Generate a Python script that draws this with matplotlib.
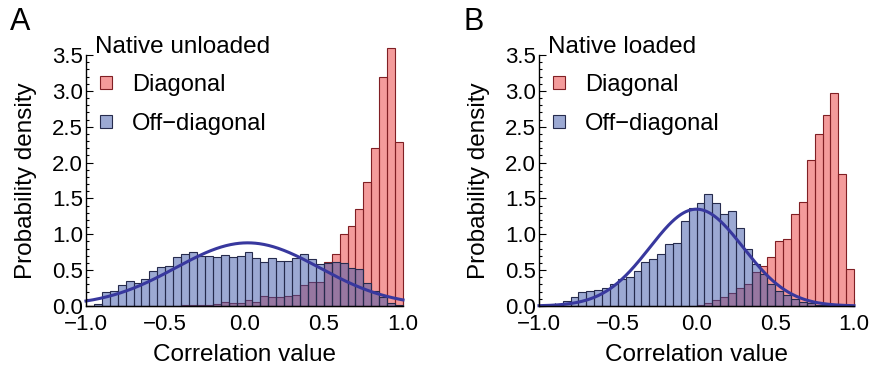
import numpy as np
import matplotlib
matplotlib.use("Agg")
import matplotlib.pyplot as plt
from matplotlib.patches import Patch
from matplotlib.ticker import MultipleLocator, FuncFormatter

plt.rcParams['font.family'] = ['Liberation Sans', 'DejaVu Sans']

# ---------------- data ----------------
bin_lo, bin_hi, n_bins = -1.0, 1.0, 40

# Panel A: native unloaded (densities per bin of width 0.05)
a_diag = [0, 0, 0, 0, 0, 0, 0, 0, 0, 0,
          0, 0, 0.01, 0.015, 0.02, 0.01, 0.03, 0.06, 0.035, 0.04,
          0.08, 0.055, 0.135, 0.12, 0.125, 0.14, 0.15, 0.29, 0.33, 0.34,
          0.61, 0.73, 1.0, 1.11, 1.35, 1.73, 2.2, 3.2, 3.6, 2.29]
a_off = [0.0, 0.03, 0.195, 0.215, 0.29, 0.35, 0.32, 0.37, 0.49, 0.54,
         0.555, 0.68, 0.73, 0.755, 0.70, 0.70, 0.685, 0.715, 0.69, 0.70,
         0.75, 0.67, 0.61, 0.665, 0.63, 0.63, 0.67, 0.72, 0.65, 0.58,
         0.60, 0.61, 0.60, 0.53, 0.51, 0.32, 0.21, 0.13, 0.04, 0.02]
a_fit_mu, a_fit_sigma = 0.02, 0.453

# Panel B: native loaded
b_diag = [0, 0, 0, 0, 0, 0, 0, 0, 0, 0,
          0, 0, 0, 0, 0, 0, 0, 0, 0, 0,
          0.02, 0.04, 0.08, 0.12, 0.18, 0.25, 0.30, 0.47, 0.555, 0.685,
          0.90, 0.93, 1.28, 1.45, 2.04, 2.40, 2.67, 2.97, 1.84, 0.51]
b_off = [0.005, 0.01, 0.015, 0.07, 0.12, 0.195, 0.21, 0.23, 0.25, 0.31,
         0.38, 0.41, 0.49, 0.62, 0.65, 0.73, 0.86, 0.88, 1.19, 1.37,
         1.43, 1.56, 1.44, 1.28, 1.32, 1.09, 0.80, 0.59, 0.445, 0.31,
         0.21, 0.16, 0.10, 0.06, 0.04, 0.02, 0.01, 0.005, 0.0, 0.0]
b_fit_mu, b_fit_sigma = 0.0, 0.2955

panel_letters = ["A", "B"]
panel_titles = ["Native unloaded", "Native loaded"]
legend_labels = ["Diagonal", "Off\u2212diagonal"]
xlabel = "Correlation value"
ylabel = "Probability density"

# ---------------- style ----------------
red_face = (0.92, 0.22, 0.22, 0.5)
red_edge = (0.50, 0.12, 0.14)
blue_face = (0.23, 0.33, 0.66, 0.5)
blue_edge = (0.15, 0.17, 0.30)
curve_col = (0.22, 0.22, 0.62)

W, H = 872, 373
fig = plt.figure(figsize=(W / 100, H / 100), dpi=100)

panels = [
    dict(diag=a_diag, off=a_off, mu=a_fit_mu, sd=a_fit_sigma, left=86, right=403),
    dict(diag=b_diag, off=b_off, mu=b_fit_mu, sd=b_fit_sigma, left=539, right=854),
]
top_px, bot_px = 55, 306

edges = np.linspace(bin_lo, bin_hi, n_bins + 1)
width = edges[1] - edges[0]
fmt = FuncFormatter(lambda v, p: f"{v:.1f}".replace("-", "\u2212"))

for k, p in enumerate(panels):
    aw = p['right'] - p['left']
    ah = bot_px - top_px
    ax = fig.add_axes([p['left'] / W, (H - bot_px) / H, aw / W, ah / H])
    ax.bar(edges[:-1], p['diag'], width=width, align='edge',
           facecolor=red_face, edgecolor=red_edge, linewidth=0.8,
           clip_on=False, zorder=2)
    ax.bar(edges[:-1], p['off'], width=width, align='edge',
           facecolor=blue_face, edgecolor=blue_edge, linewidth=0.8,
           clip_on=False, zorder=3)
    xs = np.linspace(bin_lo, bin_hi, 400)
    ys = np.exp(-0.5 * ((xs - p['mu']) / p['sd']) ** 2) / (p['sd'] * np.sqrt(2 * np.pi))
    ax.plot(xs, ys, color=curve_col, lw=2.2, zorder=4, clip_on=False)

    ax.set_xlim(-1, 1)
    ax.set_ylim(0, 3.5)
    for s in ['top', 'right']:
        ax.spines[s].set_visible(False)
    for s in ['left', 'bottom']:
        ax.spines[s].set_linewidth(1.0)
        ax.spines[s].set_zorder(5)
    ax.xaxis.set_major_locator(MultipleLocator(0.5))
    ax.xaxis.set_minor_locator(MultipleLocator(0.1))
    ax.yaxis.set_major_locator(MultipleLocator(0.5))
    ax.yaxis.set_minor_locator(MultipleLocator(0.1))
    ax.xaxis.set_major_formatter(fmt)
    ax.yaxis.set_major_formatter(fmt)
    ax.tick_params(which='both', direction='in', labelsize=16, width=0.8)
    ax.tick_params(which='major', length=5)
    ax.tick_params(which='minor', length=2.5)
    ax.tick_params(axis='x', which='major', pad=6)
    ax.tick_params(axis='y', which='major', pad=2)
    ax.set_xlabel(xlabel, fontsize=17.5, labelpad=6)
    ax.set_ylabel(ylabel, fontsize=17.5, labelpad=11)

    # legend title
    ax.text(9 / aw, (bot_px - 47) / ah, panel_titles[k], transform=ax.transAxes,
            fontsize=17.5, ha='left', va='center')
    handles = [Patch(facecolor=red_face, edgecolor=red_edge, linewidth=0.8),
               Patch(facecolor=blue_face, edgecolor=blue_edge, linewidth=0.8)]
    ax.legend(handles, legend_labels,
              loc='upper left', bbox_to_anchor=(14 / aw, (bot_px - 74) / ah),
              frameon=False, fontsize=17,
              handlelength=0.5, handleheight=0.5, handletextpad=0.85,
              labelspacing=0.72, borderaxespad=0.0, borderpad=0.0)
    fig.text((p['left'] - 76) / W, 1 - 22 / H, panel_letters[k],
             fontsize=22, ha='left', va='center')

fig.savefig("out.png", dpi=100)
